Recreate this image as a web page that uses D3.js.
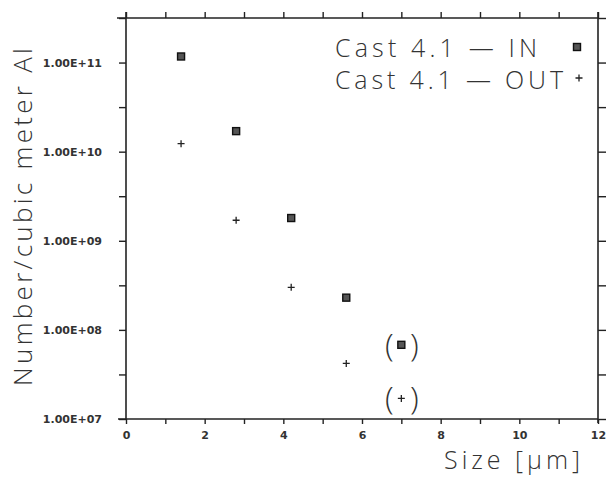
<!DOCTYPE html>
<html>
<head>
<meta charset="utf-8">
<script src="https://cdn.jsdelivr.net/npm/d3@7"></script>
<style>
  body { margin: 0; background: #fff; }
  svg { display: block; }
</style>
</head>
<body>
<script>
// sizes (um) and densities
var sizes = [1.4, 2.8, 4.2, 5.6, 7.0];
var castIn = [1.17e11, 1.7e10, 1.8e9, 2.3e8, 6.8e7];
var castOut = [1.23e10, 1.7e9, 3.0e8, 4.2e7, 1.7e7];
// last point of each series is shown in brackets
var uncertain = [false, false, false, false, true];
var yLabels = [1e7, 1e8, 1e9, 1e10, 1e11];
var xLabels = [0, 2, 4, 6, 8, 10, 12];
var seriesNames = ["Cast 4.1 \u2014 IN", "Cast 4.1 \u2014 OUT"];

var w = 610, h = 484;
var x0 = 126, x1 = 598, y0 = 419, y1 = 18;

var svg = d3.select("body").append("svg").attr("width", w).attr("height", h);

var x = d3.scaleLinear().domain([0, 12]).range([x0, x1]);
var y = d3.scaleLog().domain([1e7, Math.pow(10, 11.5)]).range([y0, y1]);

var ink = "#222";
var halfDecades = d3.range(7, 12, 0.5).map(function (e) { return Math.pow(10, e); });

// left axis with labels
svg.append("g")
  .attr("transform", "translate(" + x0 + ",0)")
  .call(d3.axisLeft(y).tickValues(halfDecades).tickSizeOuter(0).tickSize(7)
    .tickFormat(function (d) {
      return yLabels.indexOf(d) >= 0 ? "1.00E+" + d3.format("02")(Math.round(Math.log10(d))) : "";
    }))
  .call(function (g) {
    g.selectAll("path").attr("d", "M0," + y0 + "V" + (y1 - 6));
    g.selectAll("line").attr("stroke", ink).attr("stroke-width", 1.4);
    g.selectAll("path").attr("stroke", ink).attr("stroke-width", 1.6);
    g.selectAll("text").attr("x", -24).attr("font-family", "DejaVu Sans")
      .attr("font-size", 11).attr("font-weight", "bold").attr("fill", "#333");
  });

// right axis, ticks only
svg.append("g")
  .attr("transform", "translate(" + x1 + ",0)")
  .call(d3.axisRight(y).tickValues(halfDecades).tickSize(8).tickFormat(""))
  .call(function (g) {
    g.selectAll("path").attr("d", "M0," + (y0 + 4) + "V" + (y1 - 6));
    g.selectAll("line").attr("stroke", ink).attr("stroke-width", 1.4);
    g.selectAll("path").attr("stroke", ink).attr("stroke-width", 1.6);
  });

// bottom axis
svg.append("g")
  .attr("transform", "translate(0," + y0 + ")")
  .call(d3.axisBottom(x).tickValues(d3.range(0, 13)).tickSize(5)
    .tickFormat(function (d) { return xLabels.indexOf(d) >= 0 ? d : ""; }))
  .call(function (g) {
    g.selectAll("path").attr("d", "M" + (x0 - 8) + ",0H" + x1);
    g.selectAll("line").attr("stroke", ink).attr("stroke-width", 1.4);
    g.selectAll("path").attr("stroke", ink).attr("stroke-width", 1.6);
    g.selectAll("text").attr("y", 12).attr("font-family", "DejaVu Sans")
      .attr("font-size", 11).attr("font-weight", "bold").attr("fill", "#333");
  });

// top axis, ticks only
svg.append("g")
  .attr("transform", "translate(0," + y1 + ")")
  .call(d3.axisTop(x).tickValues(d3.range(0, 13)).tickSize(6).tickFormat(""))
  .call(function (g) {
    g.selectAll("path").attr("d", "M" + (x0 - 9) + ",0H" + x1);
    g.selectAll("line").attr("stroke", ink).attr("stroke-width", 1.4);
    g.selectAll("path").attr("stroke", ink).attr("stroke-width", 1.6);
  });

var titleFont = "'Open Sans', 'DejaVu Sans', sans-serif";

// axis titles (stretched to the width of the original lettering)
svg.append("text")
  .attr("transform", "translate(32,386) rotate(-90)")
  .attr("font-family", titleFont).attr("font-weight", 300)
  .attr("font-size", 26).attr("fill", "#333")
  .attr("textLength", 338).attr("lengthAdjust", "spacing")
  .text("Number/cubic meter Al");

svg.append("text")
  .attr("x", 444).attr("y", 469)
  .attr("font-family", titleFont).attr("font-weight", 300)
  .attr("font-size", 25).attr("fill", "#333")
  .attr("textLength", 136).attr("lengthAdjust", "spacing")
  .text("Size [\u03bcm]");

// markers
function square(g, px, py) {
  g.append("rect").attr("x", px - 3.5).attr("y", py - 3.5).attr("width", 7).attr("height", 7)
    .attr("fill", "#555").attr("stroke", "#111").attr("stroke-width", 1.4);
}
function plus(g, px, py) {
  g.append("path").attr("d", "M" + (px - 3.5) + "," + py + "h7M" + px + "," + (py - 3.5) + "v7")
    .attr("stroke", "#222").attr("stroke-width", 1.3);
}

var pts = svg.append("g");
sizes.forEach(function (s, i) {
  square(pts, x(s), y(castIn[i]));
  plus(pts, x(s), y(castOut[i]));
});

// brackets around tentative points
var brackets = svg.append("g");
sizes.forEach(function (s, i) {
  if (!uncertain[i]) return;
  [castIn[i], castOut[i]].forEach(function (v) {
    [["(", -12], [")", 13]].forEach(function (b) {
      brackets.append("text")
        .attr("x", x(s) + b[1]).attr("y", y(v) + 11)
        .attr("text-anchor", "middle")
        .attr("font-family", titleFont).attr("font-weight", 300)
        .attr("font-size", 32).attr("fill", "#333")
        .text(b[0]);
    });
  });
});

// legend
var legend = svg.append("g");
seriesNames.forEach(function (name, i) {
  var ly = 57 + i * 32;
  legend.append("text")
    .attr("x", 335).attr("y", ly)
    .attr("font-family", titleFont).attr("font-weight", 300)
    .attr("font-size", 25).attr("fill", "#333")
    .attr("textLength", i == 0 ? 202 : 228).attr("lengthAdjust", "spacing")
    .text(name);
  if (i == 0) square(legend, 577, ly - 10);
  else plus(legend, 579, ly - 11);
});
</script>
</body>
</html>
